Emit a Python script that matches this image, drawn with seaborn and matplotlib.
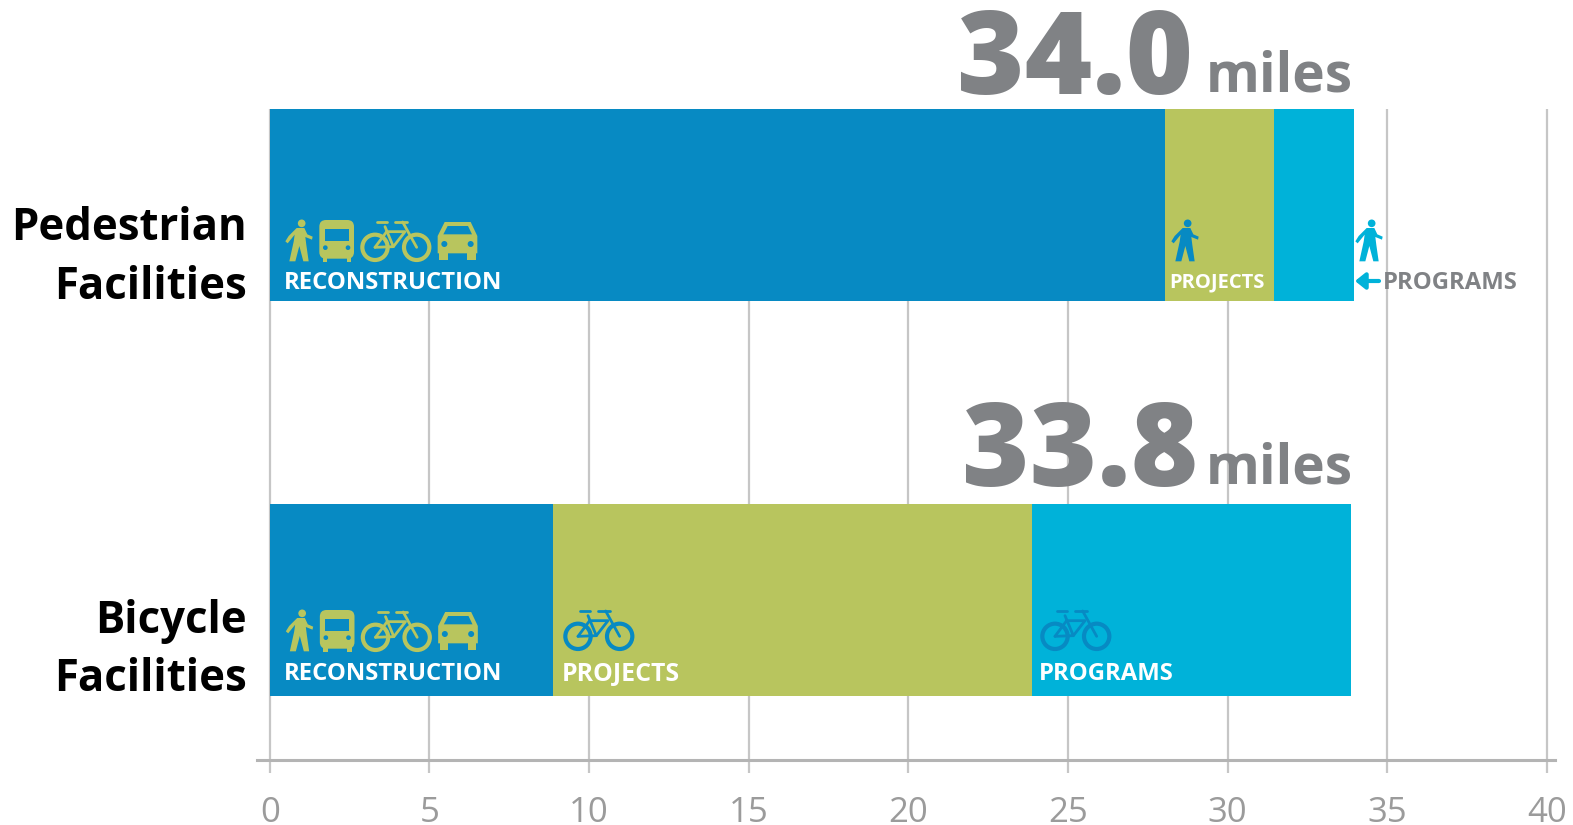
import matplotlib
matplotlib.use("Agg")
import matplotlib.pyplot as plt
from matplotlib.patches import Circle, FancyBboxPatch, Polygon
from matplotlib.lines import Line2D
from matplotlib.transforms import Affine2D
import pandas as pd
import seaborn as sns

# Data
facilities = ["Pedestrian\nFacilities", "Bicycle\nFacilities"]
segments = ["RECONSTRUCTION", "PROJECTS", "PROGRAMS"]
reconstruction = [28.05, 8.87]
projects = [3.4, 15.0]
programs = [2.5, 9.98]
totals = ["34.0", "33.8"]
x_ticks = [0, 5, 10, 15, 20, 25, 30, 35, 40]

# Colors
blue = "#078ac3"
green = "#b8c55e"
cyan = "#00b2d9"
gray = "#808285"
grid_gray = "#c6c6c6"
tick_gray = "#9b9b9b"

W, H = 1573, 825
sns.set_theme(style="white")
plt.rcParams["font.family"] = ["Open Sans", "DejaVu Sans"]

df = pd.DataFrame({
    "facility": facilities,
    "RECONSTRUCTION": reconstruction,
    "PROJECTS": projects,
    "PROGRAMS": programs,
})
cum = df[segments].cumsum(axis=1)
cum["facility"] = df["facility"]

fig = plt.figure(figsize=(W / 100, H / 100), dpi=100, facecolor="white")
# axes box in pixels: x 257-1555, y 108.5-759.7
ax = fig.add_axes([257 / W, 1 - 759.7 / H, (1555 - 257) / W, (759.7 - 108.5) / H])

# stacked bars: longest first, shorter ones drawn on top
for seg, col in zip(segments[::-1], [cyan, green, blue]):
    sns.barplot(data=cum, x=seg, y="facility", color=col, saturation=1, width=0.485,
                orient="h", ax=ax, zorder=3, linewidth=0, edgecolor="none")

ax.set_xlim(-0.4, 40.25)
ax.set_ylim(1.403, -0.2434)
ax.set_xlabel("")
ax.set_ylabel("")
ax.set_yticks([])
ax.set_xticks(x_ticks)
ax.set_axisbelow(True)
ax.grid(axis="x", color=grid_gray, lw=1.6)
ax.grid(axis="y", visible=False)
for s in ["top", "left", "right"]:
    ax.spines[s].set_visible(False)
ax.spines["bottom"].set_color("#b4b4b4")
ax.spines["bottom"].set_linewidth(2.2)
ax.tick_params(axis="x", length=9, width=1.6, color=grid_gray, pad=17,
               labelsize=25, labelcolor=tick_gray, bottom=True)


def px(x, y, s=1.0):
    # icon units are 1/3 px, origin at x, y from the top left of the image
    return Affine2D().scale(s / 3, -s / 3).translate(x, H - y)


def add(patch, tr):
    patch.set_transform(tr)
    patch.set_clip_on(False)
    patch.set_zorder(6)
    fig.add_artist(patch)


def walker(x, y, col):
    tr = px(x, y)
    add(Circle((95, 70), 11.5, fc=col, ec="none"), tr)
    add(Polygon([(80, 84), (103, 84), (112, 103), (128, 110), (126, 119), (106, 111), (109, 135),
                 (116, 184), (100, 184), (88, 138), (76, 184), (58, 184), (71, 125), (74, 104),
                 (53, 130), (46, 124), (56, 108)], fc=col, ec="none"), tr)


def bus(x, y, col, bg):
    tr = px(x, y)
    add(FancyBboxPatch((156, 68), 88, 100, boxstyle="round,pad=8,rounding_size=20", fc=col, ec="none"), tr)
    add(Polygon([(164, 86), (236, 86), (236, 122), (164, 122)], fc=bg, ec="none"), tr)
    add(Polygon([(158, 170), (172, 170), (172, 185), (158, 185)], fc=col, ec="none"), tr)
    add(Polygon([(230, 170), (244, 170), (244, 185), (230, 185)], fc=col, ec="none"), tr)
    add(Circle((166, 143), 7, fc=bg, ec="none"), tr)
    add(Circle((234, 143), 7, fc=bg, ec="none"), tr)


def bike(x, y, col, s=1.0):
    tr = px(x, y, s)
    lw = 2.0 * s
    add(Circle((315, 142), 38, fc="none", ec=col, lw=lw + 1), tr)
    add(Circle((440, 142), 38, fc="none", ec=col, lw=lw + 1), tr)
    frame = [[(315, 142), (370, 140), (345, 80)], [(350, 95), (405, 95), (370, 140)],
             [(315, 142), (350, 95)], [(398, 66), (440, 142)], [(322, 66), (352, 66)],
             [(376, 66), (410, 66)]]
    for seg in frame:
        xs, ys = zip(*seg)
        add(Line2D(xs, ys, color=col, lw=lw), tr)


def car(x, y, col, bg):
    tr = px(x, y)
    add(Polygon([(524, 66), (602, 66), (622, 108), (622, 160), (503, 160), (503, 108)], fc=col, ec="none"), tr)
    add(Polygon([(533, 78), (594, 78), (606, 103), (520, 103)], fc=bg, ec="none"), tr)
    add(Polygon([(508, 160), (533, 160), (533, 180), (508, 180)], fc=col, ec="none"), tr)
    add(Polygon([(592, 160), (617, 160), (617, 180), (592, 180)], fc=col, ec="none"), tr)
    add(Circle((523, 132), 9, fc=bg, ec="none"), tr)
    add(Circle((602, 132), 9, fc=bg, ec="none"), tr)


for y0, dx in [(200, 0), (590, 0.5)]:
    walker(270 + dx, y0, green)
    bus(270 + dx, y0, green, blue)
    bike(270 + dx, y0, green)
    car(270 + dx, y0, green, blue)
walker(1156, 200, blue)
walker(1340, 200, cyan)
bike(473, 589, blue)
bike(950, 589, blue)


def label(x, y, s, col="white", size=17.2, ha="left"):
    fig.text(x / W, 1 - y / H, s, color=col, fontsize=size, fontweight="bold",
             ha=ha, va="center_baseline", zorder=7)


label(284, 280, segments[0])
label(284, 671, segments[0])
label(1169, 280, segments[1], size=14.5)
label(562, 671, segments[1], size=17.9)
label(1039, 671, segments[2])
label(1383, 280, segments[2], col=gray)
ax.annotate("", xy=(1355, H - 281), xytext=(1379, H - 281), xycoords="figure pixels",
            textcoords="figure pixels", annotation_clip=False, zorder=7,
            arrowprops=dict(arrowstyle="-|>,head_length=0.5,head_width=0.4", color=cyan, lw=3,
                            shrinkA=0, shrinkB=0))

# category labels sit below the bar centre
for i, name in enumerate(df["facility"]):
    ax.annotate(name, xy=(0, i), xycoords=("data", "data"), xytext=(-16.5, [-38.5, -36.2][i]),
                textcoords="offset points", ha="right", va="center", fontsize=31.5,
                fontweight="bold", color="black", linespacing=1.4, annotation_clip=False)

# totals above each bar
for tot, y_base, x_num in zip(totals, [94, 486], [957, 962]):
    fig.text(x_num / W, 1 - y_base / H, tot, color=gray, fontsize=83, fontweight=800,
             ha="left", va="baseline", zorder=7)
    fig.text(1353 / W, 1 - (y_base - 2) / H, "miles", color=gray, fontsize=39.5, fontweight="bold",
             ha="right", va="baseline", zorder=7)

fig.savefig("out.png", dpi=100)
